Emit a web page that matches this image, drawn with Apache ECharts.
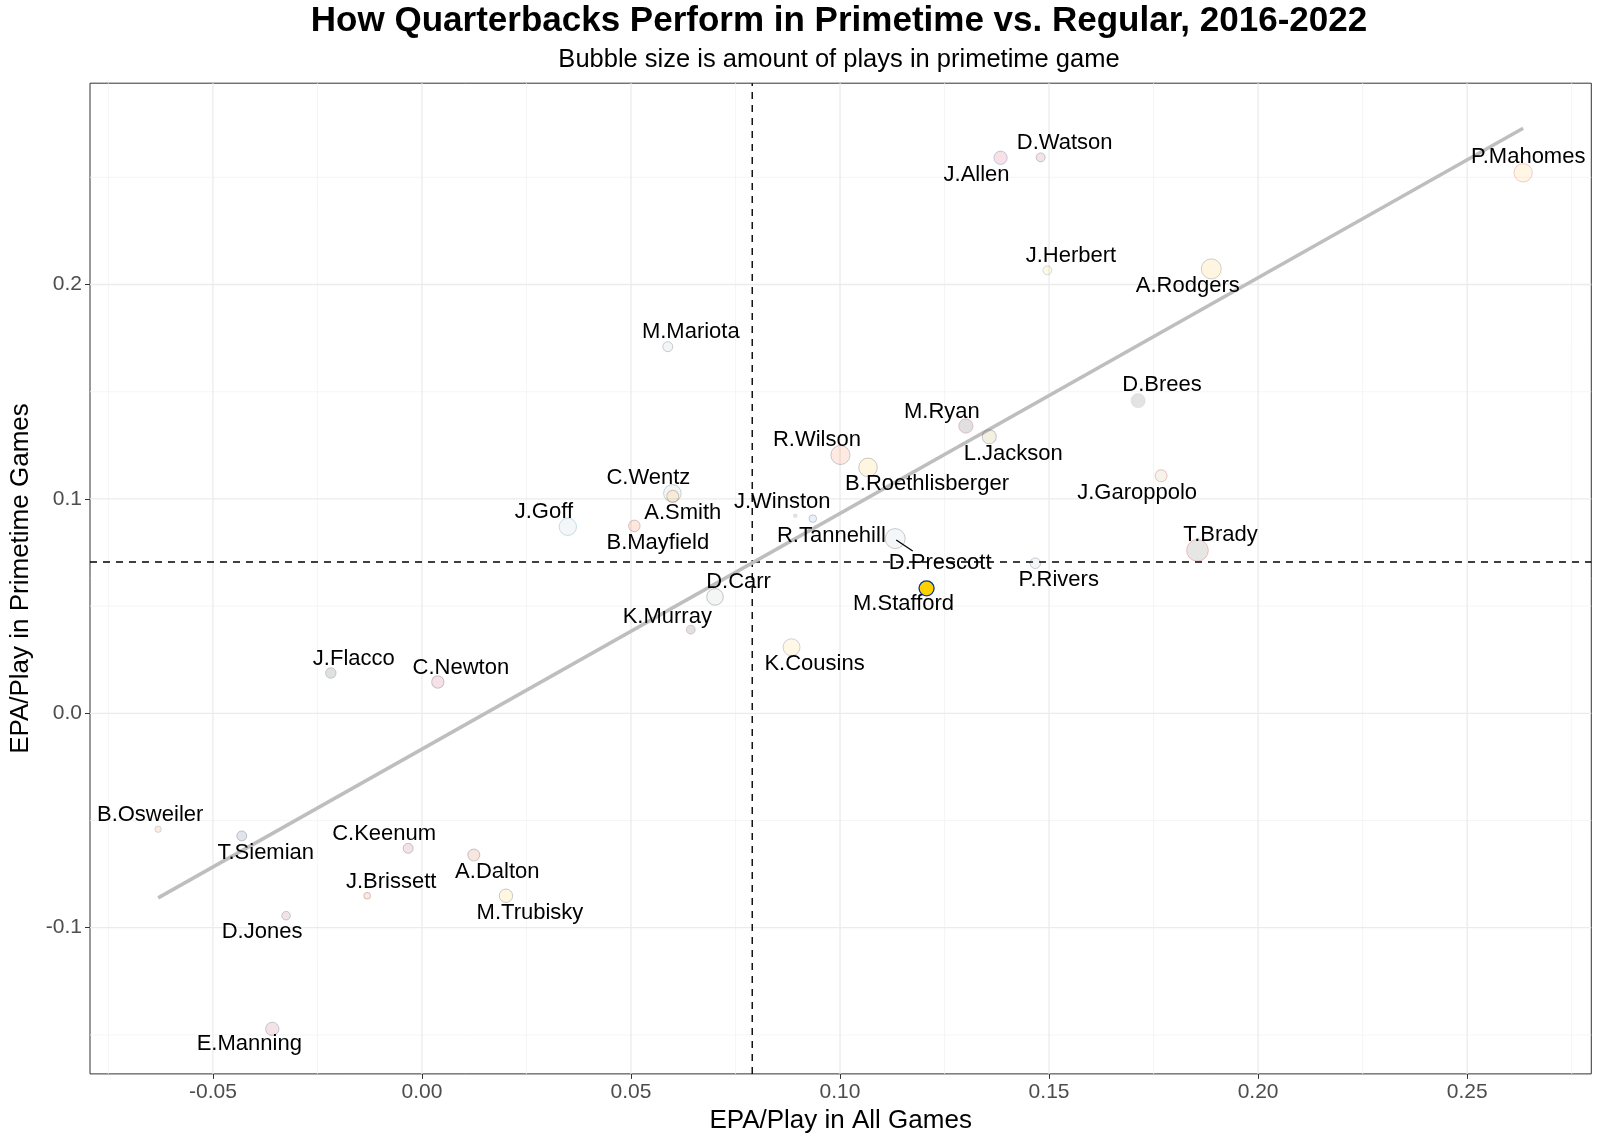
<!DOCTYPE html>
<html><head><meta charset="utf-8">
<script src="https://cdn.jsdelivr.net/npm/echarts@6/dist/echarts.min.js"></script>
<style>html,body{margin:0;padding:0;background:#fff}#c{width:1600px;height:1143px}</style>
</head><body><div id="c"></div>
<script>
// ---------------- data ----------------
const qbNames = ['P.Mahomes','D.Watson','J.Allen','J.Herbert','A.Rodgers','M.Mariota','D.Brees','M.Ryan','L.Jackson','R.Wilson','B.Roethlisberger','J.Garoppolo','C.Wentz','A.Smith','J.Goff','B.Mayfield','J.Winston','R.Tannehill','D.Prescott','D.Carr','K.Murray','M.Stafford','P.Rivers','K.Cousins','T.Brady','J.Flacco','C.Newton','B.Osweiler','T.Siemian','C.Keenum','A.Dalton','J.Brissett','M.Trubisky','D.Jones','E.Manning'];
const epaAll   = [0.2634,0.1480,0.1384,0.1496,0.1888,0.0588,0.1713,0.1301,0.1357,0.1001,0.1067,0.1768,0.0599,0.0600,0.0349,0.0508,0.0893,0.0935,0.1132,0.0701,0.0643,0.1207,0.1467,0.0884,0.1855,-0.0218,0.0038,-0.0631,-0.0431,-0.0033,0.0124,-0.0131,0.0201,-0.0325,-0.0358];
const epaPrime = [0.2521,0.2593,0.2591,0.2066,0.2073,0.1710,0.1458,0.1340,0.1290,0.1205,0.1147,0.1108,0.1026,0.1012,0.0870,0.0874,0.0921,0.0908,0.0815,0.0543,0.0390,0.0583,0.0700,0.0308,0.0760,0.0188,0.0146,-0.0541,-0.0572,-0.0630,-0.0661,-0.0851,-0.0851,-0.0944,-0.1472];
const primePlays = [990,146,440,146,1218,197,513,532,513,1102,1019,327,888,327,863,298,30,90,1218,767,146,591,232,814,1500,232,357,57,197,197,327,61,440,128,440];
const xTicks = [-0.05,0.00,0.05,0.10,0.15,0.20,0.25];
const yTicks = [-0.1,0.0,0.1,0.2];
const xMinorGrid = [-0.075,-0.025,0.025,0.075,0.125,0.175,0.225,0.275];
const yMinorGrid = [-0.15,-0.05,0.05,0.15,0.25];
const meanAll = 0.0790;
const meanPrime = 0.0706;
const fitX = [-0.0631, 0.2634];
const fitY = [-0.0861, 0.2729];

// ---------------- styles / layout ----------------
const FONT = '"Liberation Sans", Arial, Helvetica, sans-serif';
const xMin = -0.0794, xMax = 0.2797, yMin = -0.1682, yMax = 0.2939;
const highlight = 'M.Stafford';
const fillBorder = {
 'P.Mahomes':['#FFB81C','#E31837'],'D.Watson':['#A71930','#03202F'],'J.Allen':['#C60C30','#00338D'],
 'J.Herbert':['#FFC20E','#0080C6'],'A.Rodgers':['#FFB612','#203731'],'M.Mariota':['#A5ACAF','#0C2340'],
 'D.Brees':['#101820','#D3BC8D'],'M.Ryan':['#000000','#A71930'],'L.Jackson':['#9E7C0C','#241773'],
 'R.Wilson':['#FB4F14','#002244'],'B.Roethlisberger':['#FFB612','#101820'],'J.Garoppolo':['#B3995D','#AA0000'],
 'C.Wentz':['#A5ACAF','#004C54'],'A.Smith':['#FFB612','#5A1414'],'J.Goff':['#B0B7BC','#0076B6'],
 'B.Mayfield':['#FF3C00','#311D00'],'J.Winston':['#101820','#D3BC8D'],'R.Tannehill':['#4B92DB','#0C2340'],
 'D.Prescott':['#B0B7BC','#002244'],'D.Carr':['#A5ACAF','#000000'],'K.Murray':['#000000','#97233F'],
 'M.Stafford':['#FFD100','#003594'],'P.Rivers':['#A2AAAD','#002C5F'],'K.Cousins':['#FFC62F','#4F2683'],
 'T.Brady':['#34302B','#D50A0A'],'J.Flacco':['#000000','#125740'],'C.Newton':['#C60C30','#002244'],
 'B.Osweiler':['#FC4C02','#008E97'],'T.Siemian':['#0C2340','#002244'],'C.Keenum':['#A71930','#03202F'],
 'A.Dalton':['#C83803','#0B162A'],'J.Brissett':['#FF3C00','#311D00'],'M.Trubisky':['#FFB612','#101820'],
 'D.Jones':['#A71930','#0B2265'],'E.Manning':['#A71930','#0B2265']
};
// repelled label centre offsets (px) from each bubble
const labelOffset = {
 'P.Mahomes':[5,-16],'D.Watson':[24,-14],'J.Allen':[-24,17],'J.Herbert':[23.5,-14.5],'A.Rodgers':[-23.5,17.5],
 'M.Mariota':[23,-15],'D.Brees':[24,-15.5],'M.Ryan':[-24,-14],'L.Jackson':[24,17],'R.Wilson':[-23.5,-15],
 'B.Roethlisberger':[59,17],'J.Garoppolo':[-24,17],'C.Wentz':[-24,-15],'A.Smith':[10,17],'J.Goff':[-24,-15],
 'B.Mayfield':[23.5,17],'J.Winston':[-13,-14],'R.Tannehill':[18.5,17],'D.Prescott':[45,24],'D.Carr':[23.5,-14.5],
 'K.Murray':[-23.5,-13],'M.Stafford':[-23,16],'P.Rivers':[23.5,16.5],'K.Cousins':[23,16.5],'T.Brady':[23,-15.5],
 'J.Flacco':[23,-14],'C.Newton':[23,-14],'B.Osweiler':[-8,-14],'T.Siemian':[24,17],'C.Keenum':[-24,-14],
 'A.Dalton':[23.5,17],'J.Brissett':[24,-14],'M.Trubisky':[24,17.5],'D.Jones':[-24,16.5],'E.Manning':[-23,15]
};
// leader segment for the repelled label (px from bubble centre)
const segmentFor = 'D.Prescott', segFrom = [1,1.5], segTo = [17.5,12.5];

function rgba(hex, a){const n=parseInt(hex.slice(1),16);return `rgba(${(n>>16)&255},${(n>>8)&255},${n&255},${a})`;}
const pMin = Math.min(...primePlays), pMax = Math.max(...primePlays);
function bubbleSize(p){ const r = 2 + 8.9*Math.sqrt((p-pMin)/(pMax-pMin)); return 2*r; }

const points = qbNames.map((n,i)=>{
  const fb = fillBorder[n];
  const hi = n===highlight;
  return {
    name:n, value:[epaAll[i], epaPrime[i], primePlays[i]],
    itemStyle:{ color: hi?fb[0]:rgba(fb[0],0.12), borderColor: hi?fb[1]:rgba(fb[1],0.22), borderWidth: hi?1.3:1, opacity:1 }
  };
});

function vSeg(v, style, z){ return {type:'line', data:[[v,yMin],[v,yMax]], symbol:'none', silent:true, animation:false, z:z, lineStyle:style}; }
function hSeg(v, style, z){ return {type:'line', data:[[xMin,v],[xMax,v]], symbol:'none', silent:true, animation:false, z:z, lineStyle:style}; }
const major = {color:'#EBEBEB', width:1.3}, minor = {color:'#F2F2F2', width:0.8};
const dashed = {color:'#000', width:1.4, type:[7,6]};

const series = [];
xMinorGrid.forEach(v=>series.push(vSeg(v,minor,1)));
yMinorGrid.forEach(v=>series.push(hSeg(v,minor,1)));
xTicks.forEach(v=>series.push(vSeg(v,major,1)));
yTicks.forEach(v=>series.push(hSeg(v,major,1)));
series.push(vSeg(meanAll,dashed,3));
series.push(hSeg(meanPrime,dashed,3));
series.push({type:'line', data:fitX.map((x,i)=>[x,fitY[i]]), symbol:'none', silent:true, animation:false, z:4,
  lineStyle:{color:'#BEBEBE', width:3.5}});
const scatterIndex = series.length;
series.push({
  type:'scatter', z:5, animation:false, data:points,
  symbolSize:(val)=>bubbleSize(val[2]),
  label:{show:true, position:'inside', formatter:(p)=>p.name, color:'#000', fontSize:22, fontFamily:FONT},
  labelLayout:(params)=>{ const o = labelOffset[qbNames[params.dataIndex]]; return {dx:o[0], dy:o[1]}; },
  emphasis:{disabled:true}
});

const chart = echarts.init(document.getElementById('c'), null, {renderer:'canvas'});
const axisCommon = {splitLine:{show:false}, axisLine:{show:false, onZero:false}};
chart.setOption({
  backgroundColor:'#fff',
  animation:false,
  grid:{left:87.4, right:8.7, top:83.2, bottom:69.1, show:true, borderColor:'#333', borderWidth:1, backgroundColor:'transparent'},
  xAxis:Object.assign({type:'value', min:xMin, max:xMax,
    axisTick:{show:true, customValues:xTicks, length:5, lineStyle:{color:'#333', width:1}},
    axisLabel:{customValues:xTicks, formatter:(v)=>v.toFixed(2), color:'#4D4D4D', fontSize:21, margin:8, fontFamily:FONT},
    name:'EPA/Play in All Games', nameLocation:'middle', nameGap:31,
    nameTextStyle:{fontSize:26, color:'#000', fontFamily:FONT}}, axisCommon),
  yAxis:Object.assign({type:'value', min:yMin, max:yMax,
    axisTick:{show:true, customValues:yTicks, length:5, lineStyle:{color:'#333', width:1}},
    axisLabel:{customValues:yTicks, formatter:(v)=>v.toFixed(1), color:'#4D4D4D', fontSize:21, margin:8, fontFamily:FONT},
    name:'EPA/Play in Primetime Games', nameLocation:'middle', nameGap:56,
    nameTextStyle:{fontSize:26, color:'#000', fontFamily:FONT}}, axisCommon),
  series:series
});

// title, subtitle and the label leader segment
const si = qbNames.indexOf(segmentFor);
const sp = chart.convertToPixel({seriesIndex:scatterIndex}, [epaAll[si], epaPrime[si]]);
chart.setOption({
  graphic:[
    {type:'text', x:839, y:21, style:{text:'How Quarterbacks Perform in Primetime vs. Regular, 2016-2022', fill:'#000',
      font:'bold 35px '+FONT, align:'center', verticalAlign:'middle', textAlign:'center', textVerticalAlign:'middle'}},
    {type:'text', x:839, y:60, style:{text:'Bubble size is amount of plays in primetime game', fill:'#000',
      font:'25.5px '+FONT, align:'center', verticalAlign:'middle', textAlign:'center', textVerticalAlign:'middle'}},
    {type:'line', z:10, shape:{x1:sp[0]+segFrom[0], y1:sp[1]+segFrom[1], x2:sp[0]+segTo[0], y2:sp[1]+segTo[1]},
      style:{stroke:'#000', lineWidth:1.3}}
  ]
});
</script></body></html>
